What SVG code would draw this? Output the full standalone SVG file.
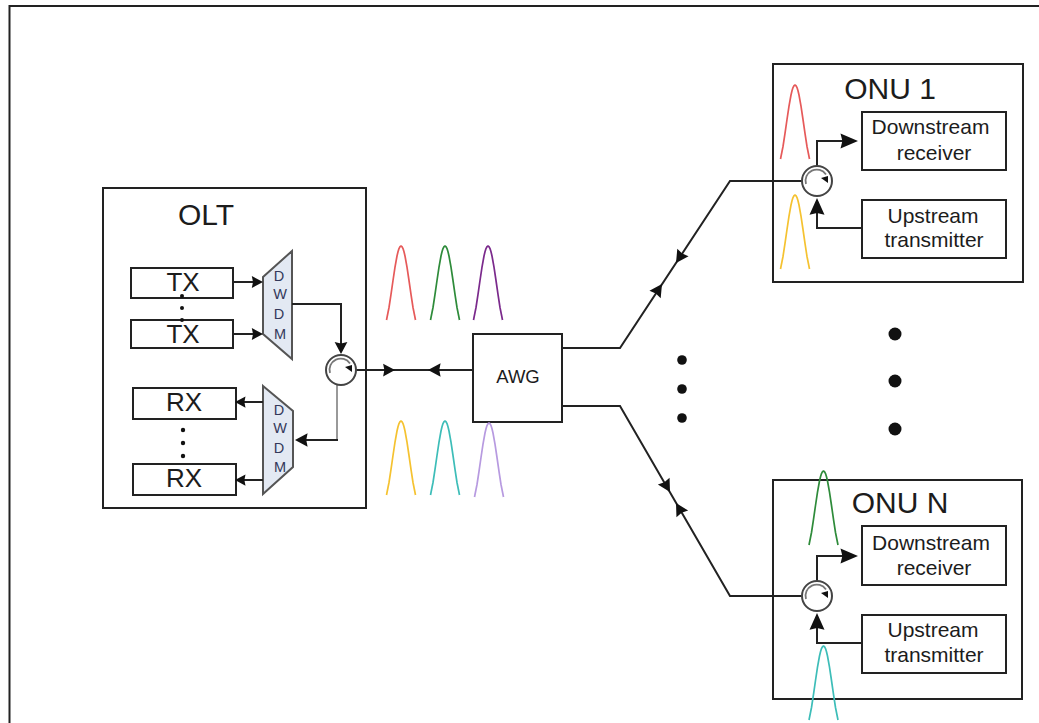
<svg xmlns="http://www.w3.org/2000/svg" width="1039" height="723" viewBox="0 0 1039 723">
<style>
text{font-family:"Liberation Sans",Arial,sans-serif;fill:#1c1c1c;text-anchor:middle}
.box{fill:#fff;stroke:#222;stroke-width:2}
.mux{fill:#e3e9f3;stroke:#555;stroke-width:2}
.line{fill:none;stroke:#222;stroke-width:2}
.gline{fill:none;stroke:#999;stroke-width:2}
.circ{fill:#fff;stroke:#444;stroke-width:2}
.curl{fill:none;stroke:#777;stroke-width:1.800}
.head{fill:#111;stroke:none}
.dot{fill:#111}
.g{fill:none;stroke-width:1.700;stroke-linejoin:round}
.t30{font-size:30px}.t26{font-size:26px}.t21{font-size:21px}.t18{font-size:18.500px}.t14{font-size:14.500px;fill:#33385a}
</style>
<defs>
<path id="gauss" d="M-14.500 74L-12 61.500L-10 48.400L-8 34.500L-6 21.200L-4 10L-3 5.800L-2 2.600L-1 .7L0 0L1 .7L2 2.600L3 5.800L4 10L6 21.200L8 34.500L10 48.400L12 61.500L14.500 74"/>
<path id="ah" class="head" d="M0 0L-14 -7.500L-12.500 0L-14 7.500Z"/>
<g id="curl"><path class="curl" d="M-11 3A11.200 11.200 0 0 1 9 -6.500"/><path class="head" d="M11 2L4 -3L11 -5Z"/></g>
</defs>
<path id="frame" d="M9.500 723V6H1039" fill="none" stroke="#222" stroke-width="2"/>

<g id="OLT"><rect class="box" x="103" y="188" width="263" height="320"/><text class="t30" x="206" y="225">OLT</text></g>
<g id="TX1"><rect class="box" x="131" y="268" width="102" height="30"/><text class="t26" x="183" y="291">TX</text></g>
<g id="TX2"><rect class="box" x="131" y="320" width="102" height="28"/><text class="t26" x="183" y="343">TX</text></g>
<g id="RX1"><rect class="box" x="133" y="388" width="103" height="31"/><text class="t26" x="184" y="411">RX</text></g>
<g id="RX2"><rect class="box" x="133" y="464" width="103" height="31"/><text class="t26" x="184" y="487">RX</text></g>
<g id="tx-dots"><circle class="dot" cx="182" cy="296" r="2"/><circle class="dot" cx="182" cy="308" r="2"/><circle class="dot" cx="182" cy="320" r="2"/></g>
<g id="rx-dots"><circle class="dot" cx="183" cy="430" r="2.200"/><circle class="dot" cx="183" cy="443" r="2.200"/><circle class="dot" cx="183" cy="456" r="2.200"/></g>
<g id="DWDM-mux"><path class="mux" d="M263 277L292 251V359L263 334Z"/><text class="t14" x="279" y="281">D</text><text class="t14" x="280" y="299">W</text><text class="t14" x="279" y="319">D</text><text class="t14" x="280" y="339">M</text></g>
<g id="DWDM-demux"><path class="mux" d="M263 386L293 411V467L263 494Z"/><text class="t14" x="279" y="415">D</text><text class="t14" x="280" y="433">W</text><text class="t14" x="279" y="453">D</text><text class="t14" x="280" y="472">M</text></g>
<g id="AWG"><rect class="box" x="473" y="334" width="89" height="88"/><text class="t18" x="518" y="383">AWG</text></g>
<g id="ONU1"><rect class="box" x="773" y="64" width="250" height="218"/><text class="t30" x="890" y="99">ONU 1</text></g>
<g id="ONU1-rx"><rect class="box" x="862" y="112" width="144" height="58"/><text class="t21" x="930.500" y="134">Downstream</text><text class="t21" x="934" y="160">receiver</text></g>
<g id="ONU1-tx"><rect class="box" x="862" y="200" width="144" height="58"/><text class="t21" x="933" y="223">Upstream</text><text class="t21" x="934" y="247">transmitter</text></g>
<g id="ONUN"><rect class="box" x="773" y="480" width="249" height="219"/><text class="t30" x="900" y="513">ONU N</text></g>
<g id="ONUN-rx"><rect class="box" x="862" y="526" width="144" height="59"/><text class="t21" x="931" y="550">Downstream</text><text class="t21" x="934" y="575">receiver</text></g>
<g id="ONUN-tx"><rect class="box" x="862" y="615" width="144" height="58"/><text class="t21" x="933" y="637">Upstream</text><text class="t21" x="934" y="662">transmitter</text></g>

<g id="connectors">
<path class="line" d="M233 282H256M233 334H256M292 304H341V346M354 370H473M240 402H263M240 480H263"/>
<path class="gline" d="M337 385V440"/>
<path class="line" d="M338 440H303"/>
<path class="line" d="M562 348H620L730 181H802M562 406H620L730 596H802"/>
<path class="line" d="M817 166V141H845M817 210V228H862M817 581V556H845M817 625V643H862"/>
<use href="#ah" transform="translate(263 282) scale(.8)"/>
<use href="#ah" transform="translate(263 334) scale(.8)"/>
<use href="#ah" transform="translate(341 354) rotate(90) scale(.85)"/>
<use href="#ah" transform="translate(295 440) rotate(180) scale(.9)"/>
<use href="#ah" transform="translate(235 402) rotate(180) scale(.75)"/>
<use href="#ah" transform="translate(235 480) rotate(180) scale(.75)"/>
<use href="#ah" transform="translate(395 370) scale(.85)"/>
<use href="#ah" transform="translate(428 370) rotate(180) scale(.9)"/>
<use href="#ah" transform="translate(662 284) rotate(-56.600) scale(.9)"/>
<use href="#ah" transform="translate(676 263) rotate(123.400) scale(.9)"/>
<use href="#ah" transform="translate(670 492) rotate(60) scale(.9)"/>
<use href="#ah" transform="translate(676 503) rotate(240) scale(.9)"/>
<use href="#ah" transform="translate(858 141) scale(1.250 1)"/>
<use href="#ah" transform="translate(817 198) rotate(-90) scale(1.200 1)"/>
<use href="#ah" transform="translate(858 556) scale(1.250 1)"/>
<use href="#ah" transform="translate(817 613) rotate(-90) scale(1.200 1)"/>
</g>

<g id="circulator-olt"><circle class="circ" cx="341" cy="370" r="15"/><use href="#curl" transform="translate(341 370)"/></g>
<g id="circulator-onu1"><circle class="circ" cx="817" cy="181" r="15"/><use href="#curl" transform="translate(817 181)"/></g>
<g id="circulator-onun"><circle class="circ" cx="817" cy="596" r="15"/><use href="#curl" transform="translate(817 596)"/></g>

<g id="spectra">
<use href="#gauss" class="g" stroke="#e65a5a" transform="translate(401 246)"/>
<use href="#gauss" class="g" stroke="#2e8b3a" transform="translate(445 246)"/>
<use href="#gauss" class="g" stroke="#7b2a8c" transform="translate(488 246)"/>
<use href="#gauss" class="g" stroke="#f5c230" transform="translate(401 421)"/>
<use href="#gauss" class="g" stroke="#3dbdb8" transform="translate(445 421)"/>
<use href="#gauss" class="g" stroke="#b79ae0" transform="translate(489 423)"/>
<use href="#gauss" class="g" stroke="#e65a5a" transform="translate(795 85)"/>
<use href="#gauss" class="g" stroke="#f5c230" transform="translate(795 195)"/>
<use href="#gauss" class="g" stroke="#2e8b3a" transform="translate(823.500 471)"/>
<use href="#gauss" class="g" stroke="#3dbdb8" transform="translate(823.500 646)"/>
</g>
<g id="ellipsis-mid"><circle class="dot" cx="682" cy="360" r="4.800"/><circle class="dot" cx="682" cy="389" r="4.800"/><circle class="dot" cx="682" cy="418" r="4.800"/></g>
<g id="ellipsis-right"><circle class="dot" cx="895" cy="334" r="6.500"/><circle class="dot" cx="895" cy="381" r="6.500"/><circle class="dot" cx="895" cy="429" r="6.500"/></g>
</svg>
